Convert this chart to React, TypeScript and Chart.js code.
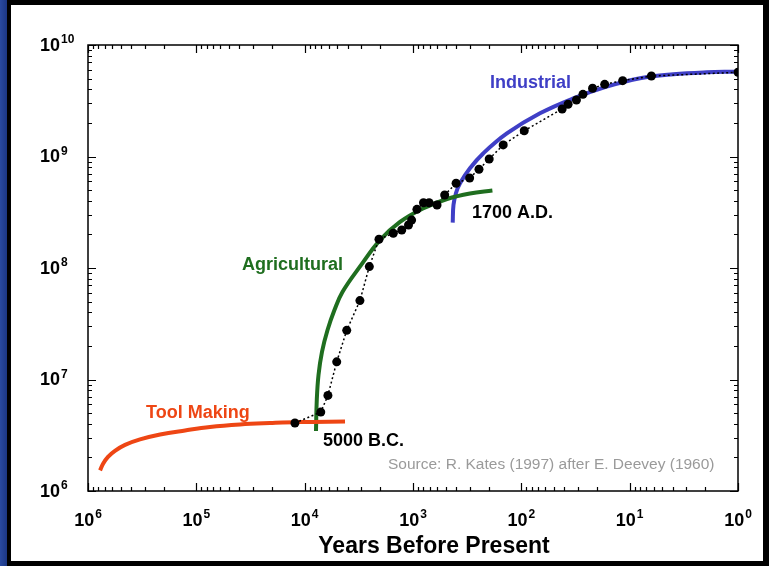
import React, { useEffect, useRef } from "react";
import { Chart, registerables } from "chart.js";

Chart.register(...registerables);

const FONT = '"Liberation Sans", Arial, Helvetica, sans-serif';

// World population estimates (years before present, people)
const populationYears = [12300, 7100, 6100, 5060, 4090, 3090, 2530, 2060, 1520, 1270, 1100, 1030, 920, 800, 710, 600, 510, 400, 300, 246, 198, 147, 94, 42, 37, 31, 27, 22, 17, 11.6, 6.3, 1];
const population = [4.07e6, 5.1e6, 7.2e6, 1.44e7, 2.76e7, 5.1e7, 1.03e8, 1.81e8, 2.05e8, 2.19e8, 2.43e8, 2.69e8, 3.36e8, 3.85e8, 3.85e8, 3.67e8, 4.52e8, 5.75e8, 6.42e8, 7.68e8, 9.5e8, 1.27e9, 1.7e9, 2.67e9, 2.94e9, 3.21e9, 3.61e9, 4.09e9, 4.44e9, 4.79e9, 5.27e9, 5.69e9];

// Tool-making era growth curve
const toolYears = [774000, 728000, 654000, 564000, 455000, 331000, 216000, 127000, 74800, 39500, 20900, 11000, 4240];
const toolPop = [1.53e6, 1.75e6, 2.02e6, 2.29e6, 2.59e6, 2.9e6, 3.21e6, 3.49e6, 3.75e6, 3.95e6, 4.07e6, 4.16e6, 4.2e6];

// Agricultural era growth curve
const agriYears = [7860, 7730, 7450, 6920, 6150, 5310, 4480, 3020, 2017, 1318, 809, 485, 298, 185];
const agriPop = [3.45e6, 6.55e6, 1.1e7, 1.77e7, 2.78e7, 4.2e7, 6.09e7, 1.06e8, 1.78e8, 2.59e8, 3.42e8, 4.16e8, 4.66e8, 4.95e8];

// Industrial era growth curve
const indYears = [430, 423, 401, 368, 298, 224, 136, 67.3, 33.1, 16.3, 8.02, 3.95, 1.95, 1.07];
const indPop = [2.55e8, 3.67e8, 4.71e8, 5.75e8, 7.84e8, 1.07e9, 1.61e9, 2.44e9, 3.32e9, 4.23e9, 5.03e9, 5.46e9, 5.69e9, 5.77e9];

const xExponents = [6, 5, 4, 3, 2, 1, 0];
const yExponents = [6, 7, 8, 9, 10];

const TOOL_COLOR = "#ee4614";
const AGRI_COLOR = "#1f6e1f";
const IND_COLOR = "#3f3fc6";

const zip = (xs: number[], ys: number[]) => xs.map((x, i) => ({ x, y: ys[i] }));

function drawPower(ctx: CanvasRenderingContext2D, exp: string, x: number, y: number, center: boolean) {
  ctx.textAlign = "left";
  ctx.textBaseline = "middle";
  ctx.font = `bold 18px ${FONT}`;
  const bw = ctx.measureText("10").width;
  ctx.font = `bold 12px ${FONT}`;
  const ew = ctx.measureText(exp).width;
  const total = bw + 1 + ew;
  const sx = center ? x - total / 2 : x;
  ctx.fillStyle = "#000";
  ctx.font = `bold 18px ${FONT}`;
  ctx.fillText("10", sx, y);
  ctx.font = `bold 12px ${FONT}`;
  ctx.fillText(exp, sx + bw + 1, y - 6);
}

const framePlugin = {
  id: "frame",
  beforeDraw(chart: any) {
    const ctx = chart.ctx as CanvasRenderingContext2D;
    const w = chart.width;
    const h = chart.height;
    ctx.save();
    ctx.fillStyle = "#000";
    ctx.fillRect(0, 0, w, h);
    const g = ctx.createLinearGradient(0, 0, 8, 0);
    g.addColorStop(0, "#2a4aa0");
    g.addColorStop(1, "#1a3480");
    ctx.fillStyle = g;
    ctx.fillRect(0, 0, 7, h);
    ctx.fillStyle = "#fff";
    ctx.fillRect(11, 5, w - 17, h - 10);
    ctx.restore();
  },
  afterDraw(chart: any) {
    const ctx = chart.ctx as CanvasRenderingContext2D;
    const { left, right, top, bottom } = chart.chartArea;
    const xs = chart.scales.x;
    const ys = chart.scales.y;
    ctx.save();
    ctx.strokeStyle = "#000";
    ctx.lineWidth = 1.5;
    ctx.strokeRect(left, top, right - left, bottom - top);

    ctx.lineWidth = 1.2;
    ctx.beginPath();
    // x-axis ticks, pointing inward on bottom and top
    for (let e = 0; e <= 6; e++) {
      for (let m = 1; m <= 9; m++) {
        const v = m * Math.pow(10, e);
        if (v > 1e6) continue;
        const px = Math.round(xs.getPixelForValue(v)) + 0.5;
        const len = m === 1 ? 8 : 4;
        ctx.moveTo(px, bottom);
        ctx.lineTo(px, bottom - len);
        ctx.moveTo(px, top);
        ctx.lineTo(px, top + len);
      }
    }
    // y-axis ticks, pointing inward on left and right
    for (let e = 6; e <= 10; e++) {
      for (let m = 1; m <= 9; m++) {
        const v = m * Math.pow(10, e);
        if (v > 1e10) continue;
        const py = Math.round(ys.getPixelForValue(v)) + 0.5;
        const len = m === 1 ? 8 : 4;
        ctx.moveTo(left, py);
        ctx.lineTo(left + len, py);
        ctx.moveTo(right, py);
        ctx.lineTo(right - len, py);
      }
    }
    ctx.stroke();

    xExponents.forEach((e) => {
      drawPower(ctx, String(e), xs.getPixelForValue(Math.pow(10, e)), 521, true);
    });
    yExponents.forEach((e) => {
      drawPower(ctx, String(e), 40, ys.getPixelForValue(Math.pow(10, e)) + 1, false);
    });

    ctx.textAlign = "center";
    ctx.textBaseline = "middle";
    ctx.fillStyle = "#000";
    ctx.font = `bold 23px ${FONT}`;
    ctx.fillText("Years Before Present", 434, 547);

    ctx.textAlign = "left";
    const label = (t: string, x: number, y: number, color: string, font: string) => {
      ctx.fillStyle = color;
      ctx.font = font;
      ctx.fillText(t, x, y);
    };
    const bold = `bold 18px ${FONT}`;
    label("Industrial", 490, 83, IND_COLOR, bold);
    label("Agricultural", 242, 265, AGRI_COLOR, bold);
    label("Tool Making", 146, 413, TOOL_COLOR, bold);
    label("1700 A.D.", 472, 213, "#000", bold);
    label("5000 B.C.", 323, 441, "#000", bold);
    label("Source: R. Kates (1997) after E. Deevey (1960)", 388, 465, "#9a9a9a", `15.5px ${FONT}`);
    ctx.restore();
  },
};

export default function App() {
  const ref = useRef<HTMLCanvasElement | null>(null);

  useEffect(() => {
    if (!ref.current) return;
    const curve = (data: { x: number; y: number }[], color: string) => ({
      data,
      borderColor: color,
      borderWidth: 4,
      pointRadius: 0,
      fill: false,
      tension: 0.4,
      order: 2,
    });
    const chart = new Chart(ref.current, {
      type: "line",
      data: {
        datasets: [
          curve(zip(toolYears, toolPop), TOOL_COLOR),
          curve(zip(agriYears, agriPop), AGRI_COLOR),
          curve(zip(indYears, indPop), IND_COLOR),
          {
            data: zip(populationYears, population),
            borderColor: "#000",
            borderWidth: 1.5,
            borderDash: [2, 2.5],
            pointRadius: 4.5,
            pointBackgroundColor: "#000",
            pointBorderWidth: 0,
            fill: false,
            order: 1,
          },
        ],
      },
      options: {
        responsive: false,
        animation: false,
        layout: { padding: { left: 88, right: 31, top: 45, bottom: 75 } },
        plugins: { legend: { display: false }, tooltip: { enabled: false } },
        scales: {
          x: { type: "logarithmic", reverse: true, min: 1, max: 1e6, display: false },
          y: { type: "logarithmic", min: 1e6, max: 1e10, display: false },
        },
      },
      plugins: [framePlugin],
    });
    return () => chart.destroy();
  }, []);

  return (
    <div style={{ position: "fixed", left: 0, top: 0, width: 769, height: 566 }}>
      <canvas ref={ref} width={769} height={566} style={{ display: "block" }} />
    </div>
  );
}
